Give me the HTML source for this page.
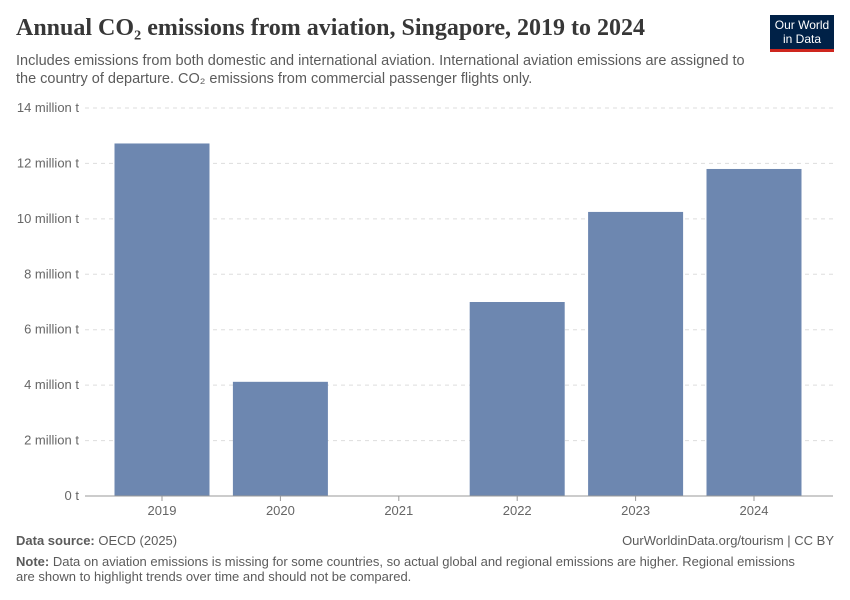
<!DOCTYPE html>
<html><head><meta charset="utf-8"><style>
body{margin:0;width:850px;height:600px;background:#fff;font-family:"Liberation Sans",sans-serif;position:relative;overflow:hidden}
.t{position:absolute;margin:0}
</style></head><body>
<h1 class="t" style="left:16px;top:15px;font-family:'Liberation Serif',serif;font-size:24px;font-weight:bold;color:#373737">Annual CO₂ emissions from aviation, Singapore, 2019 to 2024</h1>
<div class="t" style="left:16px;top:52px;font-size:14.5px;line-height:18px;color:#5b5b5b;width:750px">Includes emissions from both domestic and international aviation. International aviation emissions are assigned to the country of departure. CO₂ emissions from commercial passenger flights only.</div>
<div class="t" style="left:770px;top:15px;width:64px;height:37px;background:#002147;border-bottom:3px solid #ce261e;color:#fff;font-size:12px;line-height:14px;text-align:center;padding-top:3px;box-sizing:border-box">Our World<br>in Data</div>
<svg id="c" class="t" style="left:0;top:0" width="850" height="600"></svg>
<div class="t" style="left:16px;top:533px;font-size:13px;color:#5b5b5b"><b>Data source:</b> OECD (2025)</div>
<div class="t" style="right:16px;top:533px;font-size:13px;color:#5b5b5b">OurWorldinData.org/tourism | CC BY</div>
<div class="t" style="left:16px;top:554px;font-size:13px;line-height:15px;color:#5b5b5b;width:800px"><b>Note:</b> Data on aviation emissions is missing for some countries, so actual global and regional emissions are higher. Regional emissions are shown to highlight trends over time and should not be compared.</div>
<script>
const categories=["2019","2020","2021","2022","2023","2024"];
const values=[12.72,4.12,0,7.0,10.25,11.8];
const ticks=[0,2,4,6,8,10,12,14];
const tickLabels=["0 t","2 million t","4 million t","6 million t","8 million t","10 million t","12 million t","14 million t"];
const svg=document.getElementById('c');const NS='http://www.w3.org/2000/svg';
const y=v=>496-v*(388/14);const x=i=>162+i*118.4;
function mk(t,a){const e=document.createElementNS(NS,t);for(const k in a)e.setAttribute(k,a[k]);svg.appendChild(e);return e;}
ticks.forEach((t,i)=>{
 if(t>0){const g=mk('line',{x1:85,x2:833,y1:y(t),y2:y(t),stroke:'#ddd','stroke-dasharray':'4,4'});
 
 }
 const l=mk('text',{x:79,y:y(t)+4,'text-anchor':'end','font-size':13,fill:'#666'});l.textContent=tickLabels[i];
 
 
});
values.forEach((v,i)=>{
 const r=mk('rect',{x:x(i)-47.5,width:95,y:y(v),height:496-y(v),fill:'#6d87b0'});
 
 
 const tk=mk('line',{x1:x(i),x2:x(i),y1:496,y2:501,stroke:'#999'});
 
 
 const l=mk('text',{x:x(i),y:515,'text-anchor':'middle','font-size':13,fill:'#666'});l.textContent=categories[i];
 
 
});
const ax=mk('line',{x1:85,x2:833,y1:496,y2:496,stroke:'#999'});


</script>
</body></html>
